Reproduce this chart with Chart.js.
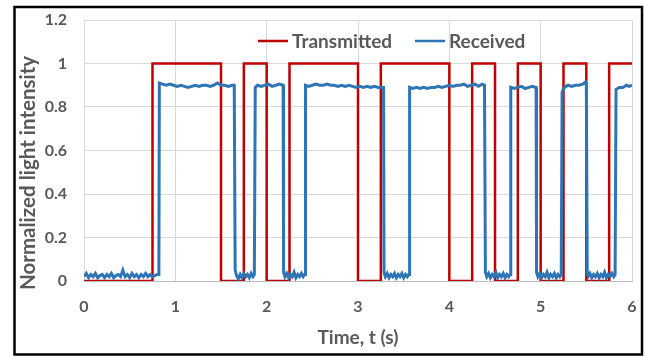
<!DOCTYPE html>
<html>
<head>
<meta charset="utf-8">
<script src="https://cdn.jsdelivr.net/npm/chart.js@4"></script>
<style>
  html, body { margin: 0; padding: 0; background: #ffffff; }
  #wrap { width: 645px; height: 356px; }
</style>
</head>
<body>
<div id="wrap"><canvas id="chart" width="645" height="356"></canvas></div>
<script>
// Transmitted signal: level changes (stepped line)
const txTimes = [0, 0.75, 1.5, 1.75, 2, 2.25, 3, 3.25, 4, 4.25, 4.5, 4.75, 5, 5.25, 5.5, 5.75, 6];
const txLevels = [0, 1, 0, 1, 0, 1, 0, 1, 0, 1, 0, 1, 0, 1, 0, 1, 1];

// Received signal
const rxTimes = [
  0, 0.025, 0.05, 0.075, 0.1, 0.125, 0.15, 0.175, 0.2, 0.225, 0.25, 0.275, 0.3, 0.325, 0.35, 0.375,
  0.4, 0.425, 0.45, 0.475, 0.5, 0.525, 0.55, 0.575, 0.6, 0.625, 0.65, 0.675, 0.7, 0.725, 0.75, 0.775, 0.8, 0.82,
  0.825, 0.86, 0.9, 0.94, 0.98, 1.02, 1.06, 1.1, 1.14, 1.18, 1.22, 1.26, 1.3, 1.34, 1.38, 1.42, 1.46, 1.5,
  1.54, 1.58, 1.62, 1.645, 1.65, 1.655, 1.67,
  1.69, 1.71, 1.73, 1.75, 1.77, 1.79, 1.81, 1.83, 1.85, 1.865, 1.87,
  1.875, 1.9, 1.94, 1.98, 2.02, 2.06, 2.1, 2.14, 2.175, 2.18, 2.185,
  2.2, 2.22, 2.24, 2.26, 2.28, 2.3, 2.32, 2.34, 2.36, 2.38, 2.4, 2.415, 2.42,
  2.425, 2.46, 2.5, 2.54, 2.58, 2.62, 2.66, 2.7, 2.74, 2.78, 2.82, 2.86, 2.9, 2.94, 2.98, 3.02, 3.06, 3.1,
  3.14, 3.18, 3.22, 3.27, 3.28, 3.285,
  3.3, 3.32, 3.34, 3.36, 3.38, 3.4, 3.42, 3.44, 3.46, 3.48, 3.5, 3.52, 3.54, 3.555, 3.56,
  3.565, 3.6, 3.64, 3.68, 3.72, 3.76, 3.8, 3.84, 3.88, 3.92, 3.96, 4.0, 4.04, 4.08, 4.12, 4.16, 4.2, 4.24,
  4.28, 4.32, 4.36, 4.385, 4.39, 4.395,
  4.41, 4.43, 4.45, 4.47, 4.49, 4.51, 4.53, 4.55, 4.57, 4.59, 4.61, 4.63, 4.65, 4.665, 4.67,
  4.675, 4.71, 4.75, 4.79, 4.83, 4.87, 4.91, 4.945, 4.95, 4.955,
  4.97, 4.99, 5.01, 5.03, 5.05, 5.07, 5.09, 5.11, 5.13, 5.15, 5.17, 5.19, 5.21, 5.225, 5.23,
  5.235, 5.26, 5.3, 5.34, 5.38, 5.42, 5.46, 5.49, 5.5, 5.505, 5.51,
  5.52, 5.54, 5.56, 5.58, 5.6, 5.62, 5.64, 5.66, 5.68, 5.7, 5.72, 5.74, 5.76, 5.78, 5.8, 5.815, 5.82,
  5.825, 5.86, 5.9, 5.94, 5.97, 6.0
];
const rxValues = [
  0.02, 0.035, 0.015, 0.03, 0.02, 0.035, 0.015, 0.025, 0.03, 0.015, 0.03, 0.02, 0.035, 0.015, 0.025, 0.03,
  0.02, 0.05, 0.02, 0.03, 0.015, 0.035, 0.02, 0.03, 0.015, 0.03, 0.02, 0.035, 0.02, 0.03, 0.02, 0.025, 0.03, 0.03,
  0.91, 0.905, 0.9, 0.905, 0.9, 0.895, 0.9, 0.895, 0.89, 0.895, 0.9, 0.895, 0.9, 0.9, 0.895, 0.9, 0.91, 0.9,
  0.9, 0.895, 0.9, 0.9, 0.9, 0.05, 0.025,
  0.01, 0.03, 0.015, 0.035, 0.02, 0.03, 0.015, 0.035, 0.02, 0.03, 0.03,
  0.89, 0.9, 0.895, 0.9, 0.905, 0.895, 0.9, 0.905, 0.9, 0.9, 0.04,
  0.02, 0.035, 0.015, 0.03, 0.02, 0.04, 0.015, 0.03, 0.02, 0.035, 0.02, 0.03, 0.03,
  0.9, 0.895, 0.9, 0.905, 0.9, 0.9, 0.905, 0.9, 0.9, 0.895, 0.9, 0.895, 0.9, 0.895, 0.89, 0.895, 0.89, 0.895,
  0.89, 0.895, 0.89, 0.89, 0.89, 0.04,
  0.02, 0.035, 0.015, 0.03, 0.02, 0.035, 0.015, 0.03, 0.02, 0.035, 0.015, 0.03, 0.02, 0.03, 0.03,
  0.89, 0.885, 0.89, 0.885, 0.89, 0.885, 0.89, 0.89, 0.895, 0.89, 0.895, 0.9, 0.895, 0.9, 0.9, 0.905, 0.895, 0.9,
  0.905, 0.895, 0.905, 0.9, 0.9, 0.04,
  0.02, 0.035, 0.015, 0.03, 0.02, 0.04, 0.015, 0.03, 0.02, 0.035, 0.015, 0.03, 0.02, 0.03, 0.03,
  0.89, 0.885, 0.89, 0.895, 0.885, 0.89, 0.895, 0.89, 0.89, 0.04,
  0.02, 0.035, 0.015, 0.03, 0.02, 0.04, 0.015, 0.03, 0.02, 0.035, 0.015, 0.03, 0.02, 0.03, 0.03,
  0.87, 0.89, 0.9, 0.895, 0.9, 0.9, 0.905, 0.915, 0.9, 0.9, 0.04,
  0.02, 0.035, 0.015, 0.03, 0.02, 0.035, 0.015, 0.03, 0.02, 0.04, 0.015, 0.03, 0.02, 0.035, 0.02, 0.03, 0.03,
  0.88, 0.89, 0.89, 0.9, 0.895, 0.9
];

const xTicks = [0, 1, 2, 3, 4, 5, 6];
const yTicks = [0, 0.2, 0.4, 0.6, 0.8, 1, 1.2];

const TEXT_GRAY = '#595959';
const RED = '#c00000';
const BLUE = '#2e75b6';
const FONT = 'Lato, "Open Sans", sans-serif';

const pairUp = (xs, ys) => xs.map((x, i) => ({ x, y: ys[i] }));

// White background plus the black frame around the whole figure
const framePlugin = {
  id: 'frame',
  beforeDraw(chart) {
    const ctx = chart.ctx;
    ctx.save();
    ctx.fillStyle = '#ffffff';
    ctx.fillRect(0, 0, chart.width, chart.height);
    ctx.restore();
  },
  afterDraw(chart) {
    const ctx = chart.ctx;
    ctx.save();
    ctx.strokeStyle = '#000000';
    ctx.lineWidth = 2.5;
    ctx.strokeRect(14.5, 7, 627.5, 347.5);
    ctx.restore();
  }
};

// Legend sits inside the plot, top right, line samples instead of boxes
const lineLegendPlugin = {
  id: 'lineLegend',
  afterDatasetsDraw(chart) {
    const ctx = chart.ctx;
    const items = [
      { ds: chart.data.datasets[0], x: 258 },
      { ds: chart.data.datasets[1], x: 415 }
    ];
    const y = 41;
    ctx.save();
    ctx.font = 'bold 19px ' + FONT;
    ctx.textBaseline = 'middle';
    ctx.textAlign = 'left';
    items.forEach(({ ds, x }) => {
      ctx.strokeStyle = ds.borderColor;
      ctx.lineWidth = 2.5;
      ctx.beginPath();
      ctx.moveTo(x, y);
      ctx.lineTo(x + 30, y);
      ctx.stroke();
      ctx.fillStyle = TEXT_GRAY;
      ctx.fillText(ds.label, x + 34, y + 1);
    });
    ctx.restore();
  }
};

const ctx = document.getElementById('chart').getContext('2d');
new Chart(ctx, {
  type: 'line',
  data: {
    datasets: [
      {
        label: 'Transmitted',
        data: pairUp(txTimes, txLevels),
        borderColor: RED,
        backgroundColor: RED,
        borderWidth: 2.5,
        stepped: 'before',
        pointRadius: 0,
        fill: false,
        order: 2
      },
      {
        label: 'Received',
        data: pairUp(rxTimes, rxValues),
        borderColor: BLUE,
        backgroundColor: BLUE,
        borderWidth: 3,
        tension: 0,
        pointRadius: 0,
        fill: false,
        order: 1
      }
    ]
  },
  options: {
    responsive: false,
    animation: false,
    events: [],
    layout: { padding: { left: 0, right: 13, top: 20, bottom: 0 } },
    plugins: {
      legend: { display: false },
      tooltip: { enabled: false }
    },
    scales: {
      x: {
        type: 'linear',
        min: 0,
        max: 6,
        afterBuildTicks: (scale) => { scale.ticks = xTicks.map(v => ({ value: v })); },
        afterFit: (scale) => {
          scale.height = 75;
          // labels at the ends must not shrink the plot area
          scale.paddingLeft = 0;
          scale.paddingRight = 0;
        },
        grid: { color: '#d9d9d9', lineWidth: 1, drawTicks: false },
        border: { color: '#bfbfbf', width: 1 },
        ticks: {
          color: TEXT_GRAY,
          padding: 16,
          font: { family: FONT, size: 16, weight: 'bold' },
          maxRotation: 0
        },
        title: {
          display: true,
          text: 'Time, t (s)',
          color: TEXT_GRAY,
          font: { family: FONT, size: 19, weight: 'bold' },
          padding: { top: 0, bottom: 7 }
        }
      },
      y: {
        type: 'linear',
        min: 0,
        max: 1.2,
        afterBuildTicks: (scale) => { scale.ticks = yTicks.map(v => ({ value: v })); },
        afterFit: (scale) => {
          scale.width = 84;
          scale.paddingTop = 0;
          scale.paddingBottom = 0;
        },
        grid: { color: '#d9d9d9', lineWidth: 1, drawTicks: false },
        border: { display: false },
        ticks: {
          color: TEXT_GRAY,
          padding: 17,
          font: { family: FONT, size: 16, weight: 'bold' },
          callback: (v) => String(+v.toFixed(1))
        },
        title: {
          display: true,
          // trailing spaces nudge the rotated title down, as in the original
          text: 'Normalized light intensity' + ' '.repeat(9),
          color: TEXT_GRAY,
          font: { family: FONT, size: 20.5, weight: 'bold' },
          padding: { top: 16, bottom: 0 }
        }
      }
    }
  },
  plugins: [framePlugin, lineLegendPlugin]
});
</script>
</body>
</html>
